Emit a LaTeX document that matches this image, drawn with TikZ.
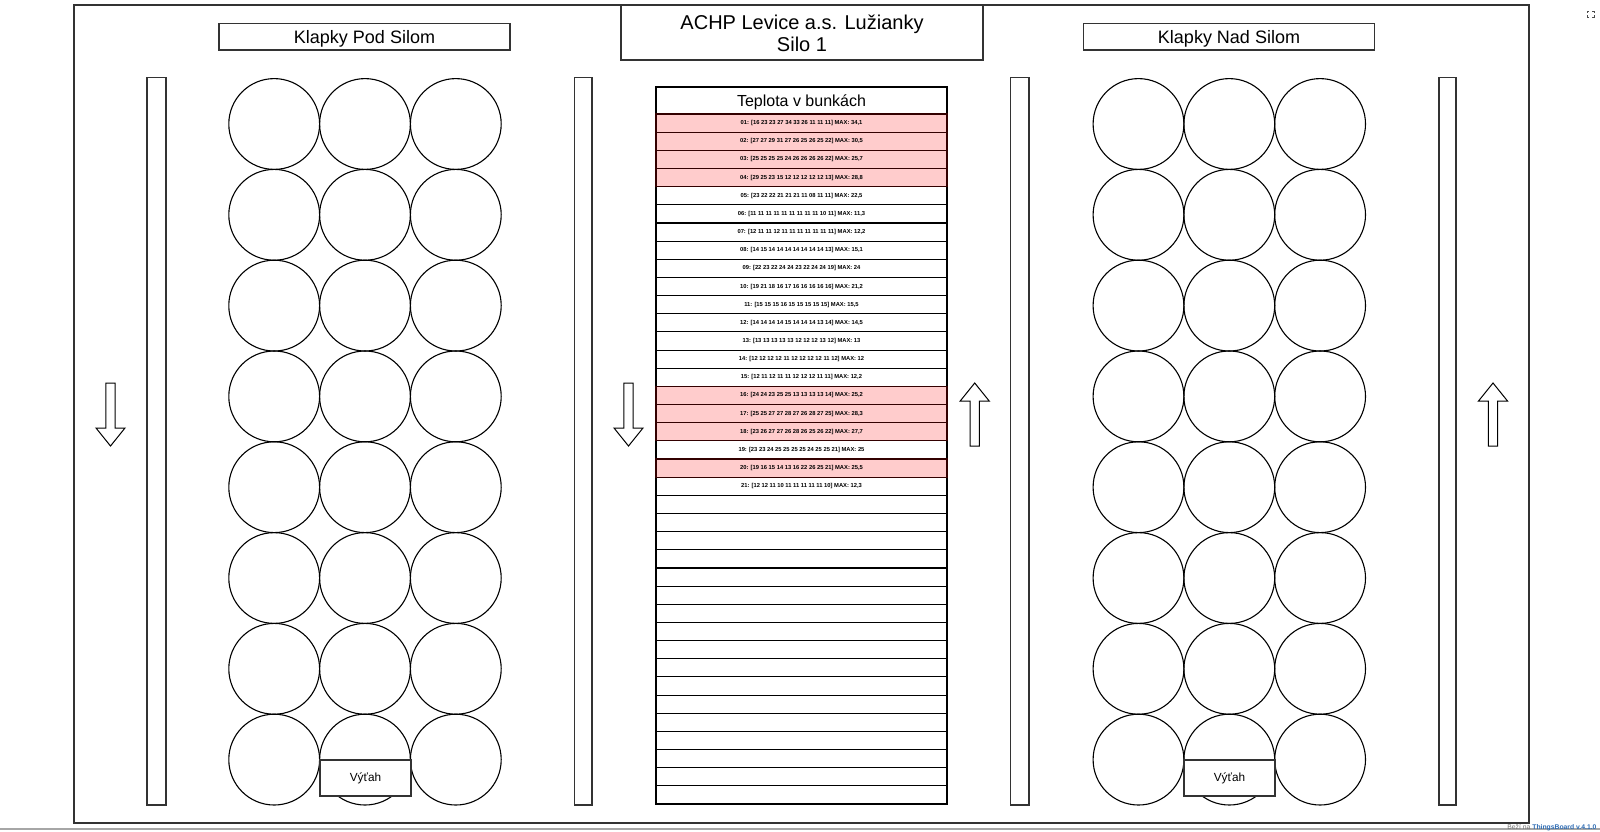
\documentclass[tikz,border=0pt]{standalone}
\usepackage{fontspec}
\setmainfont{Liberation Sans}
\definecolor{lineC}{HTML}{333333}
\definecolor{pinkC}{HTML}{FFCCCC}
\definecolor{linkC}{HTML}{2F6DB5}
\begin{document}
\begin{tikzpicture}[x=0.5pt,y=-0.5pt,line width=0.55pt,
  frameline/.style={draw=lineC,line width=0.6pt},
  hdrbox/.style={draw=lineC,fill=white,inner sep=0pt,minimum width=145.5pt,minimum height=13.25pt,text depth=0pt,font=\fontsize{9pt}{10pt}\selectfont},
  cell/.style={circle,draw=black,inner sep=0pt,minimum size=45.4pt},
  liftbox/.style={draw=lineC,fill=white,inner sep=0pt,minimum width=45.5pt,minimum height=18pt,font=\fontsize{5.9pt}{7pt}\selectfont},
  barbox/.style={draw=lineC,fill=white},
  rowtxt/.style={inner sep=0pt,font=\fontsize{2.9pt}{3.4pt}\selectfont\bfseries},
  arrowshape/.style={draw=black,fill=white,line width=0.5pt},
  downarrow/.pic={\draw[arrowshape] (-4.7,383) -- (4.7,383) -- (4.7,428) -- (14.5,428) -- (0,446) -- (-14.5,428) -- (-4.7,428) -- cycle;},
  uparrow/.pic={\draw[arrowshape] (-4.7,446) -- (4.7,446) -- (4.7,401) -- (14.5,401) -- (0,383) -- (-14.5,401) -- (-4.7,401) -- cycle;}
]
\useasboundingbox (0,0) rectangle (1600,831);
\fill[white] (0,0) rectangle (1600,831);

% outer frame
\draw[frameline] (74,5) rectangle (1529,823);
\draw[black!35,line width=0.8pt] (0,829) -- (1600,829);

% title
\draw[frameline,fill=white] (621,5) rectangle (983,60);
\node[inner sep=0pt,align=center,font=\fontsize{10pt}{11pt}\selectfont] (title) at (802,33) {ACHP Levice a.s. Lužianky\\Silo 1};

% section headers
\node[hdrbox] (hdrL) at (364.5,36.75) {Klapky Pod Silom};
\node[hdrbox] (hdrR) at (1229,36.75) {Klapky Nad Silom};

% vertical bars
\draw[barbox] (147,77.5) rectangle (166,805);
\draw[barbox] (574.5,77.5) rectangle (592,805);
\draw[barbox] (1010.5,77.5) rectangle (1029,805);
\draw[barbox] (1439,77.5) rectangle (1456,805);

% arrows
\pic at (110.5,0) {downarrow};
\pic at (628.5,0) {downarrow};
\pic at (974.7,0) {uparrow};
\pic at (1493,0) {uparrow};

% circles
\foreach \r in {0,...,7}{
  \pgfmathsetmacro{\cy}{124+90.8*\r}
  \foreach \c/\cx in {0/274.2,1/365,2/455.8}{
    \node[cell] (L-\r-\c) at (\cx,\cy) {};
  }
  \foreach \c/\cx in {0/1138.5,1/1229.3,2/1320.1}{
    \node[cell] (R-\r-\c) at (\cx,\cy) {};
  }
}
\node[liftbox] (liftL) at (365.5,778) {Výťah};
\node[liftbox] (liftR) at (1229.5,778) {Výťah};

% table
\node[draw=black,fill=white,inner sep=0pt,minimum width=145.5pt,minimum height=13.5pt,text depth=0pt,font=\fontsize{8pt}{9pt}\selectfont] (thead) at (801.5,100.5) {Teplota v bunkách};
\foreach \i in {1,...,38}{
  \pgfmathsetmacro{\ya}{114+18.158*(\i-1)}
  \pgfmathsetmacro{\yb}{114+18.158*\i}
  \draw[draw=black,fill=white] (656,\ya) rectangle (947,\yb);
}
\foreach \i in {1,2,3,4,16,17,18,20}{
  \pgfmathsetmacro{\ya}{114+18.158*(\i-1)}
  \pgfmathsetmacro{\yb}{114+18.158*\i}
  \draw[draw=black!80!red,fill=pinkC] (656,\ya) rectangle (947,\yb);
}
\foreach \i/\t in {
 1/{01: [16 23 23 27 34 33 26 11 11 11] MAX: 34,1},
 2/{02: [27 27 29 31 27 26 25 26 25 22] MAX: 30,5},
 3/{03: [25 25 25 25 24 26 26 26 26 22] MAX: 25,7},
 4/{04: [29 25 23 15 12 12 12 12 12 13] MAX: 28,8},
 5/{05: [23 22 22 21 21 21 11 08 11 11] MAX: 22,5},
 6/{06: [11 11 11 11 11 11 11 11 11 10 11] MAX: 11,3},
 7/{07: [12 11 11 12 11 11 11 11 11 11 11] MAX: 12,2},
 8/{08: [14 15 14 14 14 14 14 14 14 13] MAX: 15,1},
 9/{09: [22 23 22 24 24 23 22 24 24 19] MAX: 24},
 10/{10: [19 21 18 16 17 16 16 16 16 16] MAX: 21,2},
 11/{11: [15 15 15 16 15 15 15 15 15] MAX: 15,5},
 12/{12: [14 14 14 14 15 14 14 14 13 14] MAX: 14,5},
 13/{13: [13 13 13 13 13 12 12 12 13 12] MAX: 13},
 14/{14: [12 12 12 12 11 12 12 12 12 11 12] MAX: 12},
 15/{15: [12 11 12 11 11 12 12 12 11 11] MAX: 12,2},
 16/{16: [24 24 23 25 25 13 13 13 13 14] MAX: 25,2},
 17/{17: [25 25 27 27 28 27 26 28 27 25] MAX: 28,3},
 18/{18: [23 26 27 27 26 28 26 25 26 22] MAX: 27,7},
 19/{19: [23 23 24 25 25 25 25 24 25 25 21] MAX: 25},
 20/{20: [19 16 15 14 13 16 22 26 25 21] MAX: 25,5},
 21/{21: [12 12 11 10 11 11 11 11 11 10] MAX: 12,3}}{
  \pgfmathsetmacro{\ym}{114+18.158*(\i-0.5)}
  \node[rowtxt] (row-\i) at (801.5,\ym) {\t};
}

% footer and fullscreen icon
\node[anchor=east,inner sep=0pt,font=\fontsize{3.4pt}{4pt}\selectfont] (footer) at (1597,827.5) {\textcolor{black!55}{Beží na} \textcolor{linkC}{\bfseries ThingsBoard v.4.1.0}};
\begin{scope}[black!70,line width=0.45pt]
\draw (1587,13) -- (1587,11) -- (1589,11);
\draw (1592,11) -- (1594,11) -- (1594,13);
\draw (1594,15) -- (1594,17) -- (1592,17);
\draw (1589,17) -- (1587,17) -- (1587,15);
\end{scope}
\end{tikzpicture}
\end{document}
